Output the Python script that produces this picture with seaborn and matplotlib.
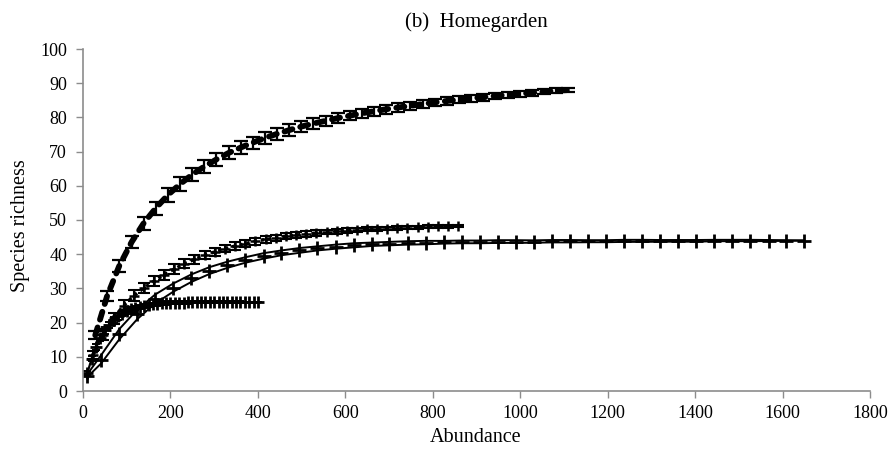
import numpy as np
import pandas as pd
import seaborn as sns
import matplotlib.pyplot as plt

# ---- data ----
a_x = [28, 55, 83, 111, 139, 166, 194, 222, 250, 277, 305, 333, 361, 388, 416, 444, 472, 499, 527, 555,
       583, 610, 638, 666, 694, 721, 749, 777, 805, 832, 860, 888, 916, 943, 971, 999, 1027, 1054, 1082, 1110]
a_y = [16.3, 27.7, 36.6, 43.5, 49.1, 53.4, 57.3, 60.5, 63.3, 65.6, 67.7, 69.6, 71.2, 72.6, 74.0, 75.2, 76.3, 77.3, 78.2, 79.0,
       79.8, 80.5, 81.2, 81.8, 82.4, 82.9, 83.4, 83.9, 84.4, 84.8, 85.2, 85.6, 85.9, 86.3, 86.6, 86.9, 87.2, 87.5, 87.8, 88.0]
a_err = [1.2, 1.5, 1.7, 1.8, 1.9, 2.0, 2.0, 2.0, 2.0, 2.0, 1.9, 1.9, 1.9, 1.8, 1.8, 1.7, 1.7, 1.6, 1.6, 1.5,
         1.5, 1.4, 1.4, 1.3, 1.3, 1.2, 1.2, 1.2, 1.1, 1.1, 1.0, 1.0, 1.0, 0.9, 0.9, 0.9, 0.8, 0.8, 0.7, 0.7]

b_x = [23, 46, 70, 93, 116, 139, 162, 186, 209, 232, 255, 278, 302, 325, 348, 371, 394, 418, 441,
       464, 487, 510, 534, 557, 580, 603, 626, 650, 673, 696, 719, 742, 766, 789, 812, 835, 858]
b_y = [10.5, 16.5, 21.3, 25.0, 27.8, 30.1, 32.1, 34.0, 35.7, 37.2, 38.5, 39.7, 40.7, 41.6, 42.4, 43.1, 43.8, 44.3, 44.8,
       45.3, 45.6, 45.9, 46.2, 46.5, 46.7, 46.9, 47.1, 47.3, 47.4, 47.5, 47.7, 47.8, 47.9, 48.0, 48.1, 48.1, 48.2]
b_err = [1.2, 1.5, 1.6, 1.6, 1.6, 1.5, 1.5, 1.4, 1.4, 1.3, 1.3, 1.2, 1.2, 1.1, 1.1, 1.0, 1.0, 0.9, 0.9,
         0.9, 0.8, 0.8, 0.8, 0.7, 0.7, 0.7, 0.6, 0.6, 0.6, 0.5, 0.5, 0.5, 0.4, 0.4, 0.4, 0.3, 0.3]

c_x = [10, 41, 83, 124, 165, 206, 248, 289, 330, 371, 413, 454, 495, 536, 578, 619, 660, 701, 743, 784, 825,
       866, 908, 949, 990, 1031, 1073, 1114, 1155, 1196, 1238, 1279, 1320, 1361, 1403, 1444, 1485, 1526, 1568, 1609, 1650]
c_y = [4.5, 9.2, 16.6, 22.4, 26.9, 30.2, 33.0, 35.2, 36.9, 38.3, 39.5, 40.4, 41.1, 41.7, 42.2, 42.6, 42.9, 43.1, 43.3, 43.4, 43.5,
       43.6, 43.6, 43.7, 43.7, 43.7, 43.8, 43.8, 43.8, 43.8, 43.9, 43.9, 43.9, 43.9, 43.9, 44.0, 44.0, 44.0, 44.0, 44.0, 44.0]
c_ci = [0.4, 1.2, 1.5, 1.4, 1.3, 1.2, 1.1, 1.0, 0.9, 0.8, 0.8, 0.7, 0.7, 0.6, 0.6, 0.6, 0.5, 0.5, 0.5, 0.5, 0.4,
        0.4, 0.4, 0.4, 0.4, 0.35, 0.35, 0.35, 0.3, 0.3, 0.3, 0.3, 0.25, 0.25, 0.25, 0.2, 0.2, 0.2, 0.15, 0.1, 0.05]

d_x = [10, 20, 30, 40, 50, 60, 70, 80, 90, 100, 110, 120, 130, 140, 150, 160, 170, 180, 190, 200,
       210, 220, 230, 240, 250, 260, 270, 280, 290, 300, 310, 320, 330, 340, 350, 360, 370, 380, 390, 400]
d_y = [5.3, 9.5, 12.8, 15.5, 17.7, 19.3, 20.7, 21.8, 22.6, 23.3, 23.9, 24.3, 24.6, 24.9, 25.1, 25.3, 25.5, 25.6, 25.7, 25.7,
       25.8, 25.8, 25.8, 25.9, 25.9, 25.9, 25.9, 25.9, 25.9, 26.0, 26.0, 26.0, 26.0, 26.0, 26.0, 26.0, 26.0, 26.0, 26.0, 26.0]
d_err = [0.5, 0.8, 0.9, 1.0, 1.0, 1.0, 0.9, 0.9, 0.8, 0.8, 0.7, 0.7, 0.6, 0.6, 0.6, 0.5, 0.5, 0.5, 0.5, 0.4,
         0.4, 0.4, 0.4, 0.4, 0.3, 0.3, 0.3, 0.3, 0.3, 0.3, 0.2, 0.2, 0.2, 0.2, 0.2, 0.2, 0.1, 0.1, 0.1, 0.1]

x_ticks = [0, 200, 400, 600, 800, 1000, 1200, 1400, 1600, 1800]
y_ticks = [0, 10, 20, 30, 40, 50, 60, 70, 80, 90, 100]

title = "(b)  Homegarden"
x_label = "Abundance"
y_label = "Species richness"

# ---- drawing ----
sns.set_theme(style="white")
plt.rcParams['font.family'] = ['Liberation Serif', 'DejaVu Serif']

W, H = 894, 454
fig = plt.figure(figsize=(W / 100, H / 100), dpi=100)
ax = fig.add_axes([83 / W, 1 - 391 / H, (870 - 83) / W, (391 - 49) / H])

dfa = pd.DataFrame({"x": a_x, "y": a_y, "e": a_err})
dfb = pd.DataFrame({"x": b_x, "y": b_y, "e": b_err})
dfc = pd.DataFrame({"x": c_x, "y": c_y,
                    "lo": np.array(c_y) - np.array(c_ci), "hi": np.array(c_y) + np.array(c_ci)})
dfd = pd.DataFrame({"x": d_x, "y": d_y, "e": d_err})

# curve D (lowest, dense plus markers)
sns.lineplot(data=dfd, x="x", y="y", ax=ax, color="black", lw=1.6, marker="+", markersize=9,
             markeredgewidth=2.0, markeredgecolor="black")
ax.errorbar(dfd["x"], dfd["y"], yerr=dfd["e"], fmt="none", ecolor="black", elinewidth=1.6,
            capsize=3, capthick=1.4)

# curve C (CI lines + plus markers)
sns.lineplot(data=dfc, x="x", y="lo", ax=ax, color="black", lw=1.4)
sns.lineplot(data=dfc, x="x", y="hi", ax=ax, color="black", lw=1.4)
sns.scatterplot(data=dfc, x="x", y="y", ax=ax, color="black", marker="+", s=100, linewidth=2.0)

# curve B
sns.lineplot(data=dfb, x="x", y="y", ax=ax, color="black", lw=2.4, linestyle=(0, (1, 1.2)),
             marker="+", markersize=7, markeredgewidth=1.8, markeredgecolor="black")
ax.errorbar(dfb["x"], dfb["y"], yerr=dfb["e"], fmt="none", ecolor="black", elinewidth=1.5,
            capsize=4.5, capthick=1.5)

# curve A
sns.lineplot(data=dfa, x="x", y="y", ax=ax, color="black", lw=4.2, linestyle=(0, (1.4, 1.4)),
             dash_capstyle="round")
ax.errorbar(dfa["x"], dfa["y"], yerr=dfa["e"], fmt="none", ecolor="black", elinewidth=1.6,
            capsize=5, capthick=1.6)

ax.set_xlim(0, 1800)
ax.set_ylim(0, 100)
ax.set_xticks(x_ticks)
ax.set_yticks(y_ticks)
ax.set_xticklabels([str(t) for t in x_ticks], fontsize=13)
ax.set_yticklabels([str(t) for t in y_ticks], fontsize=13)
ax.tick_params(axis="both", which="major", direction="out", length=5, width=1,
               color="#8c8c8c", left=True, bottom=True, labelcolor="black")
ax.tick_params(axis="y", pad=6.5)
ax.tick_params(axis="x", pad=5)

for side in ["top", "right"]:
    ax.spines[side].set_visible(False)
for side in ["left", "bottom"]:
    ax.spines[side].set_color("#8c8c8c")
    ax.spines[side].set_linewidth(1.2)

ax.set_xlabel("")
ax.set_ylabel("")
fig.text(476 / W, 1 - 437 / H, x_label, ha="center", va="center", fontsize=14.5, color="black")
fig.text(21 / W, 1 - 226 / H, y_label, ha="center", va="center", rotation=90, fontsize=14.5, color="black")
fig.text(476 / W, 1 - 22 / H, title, ha="center", va="center", fontsize=15, color="black")
ax.grid(False)

fig.savefig("out.png", dpi=100)
